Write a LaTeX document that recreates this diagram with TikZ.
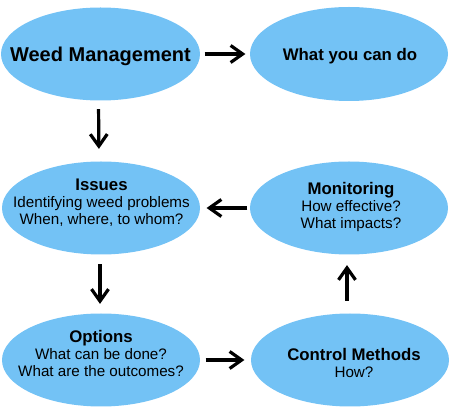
\documentclass[tikz,border=0pt]{standalone}
\usepackage{fontspec}
\setmainfont{Liberation Sans}
\usetikzlibrary{shapes.geometric,arrows.meta}
\definecolor{blobblue}{HTML}{73C2F5}
\newcommand{\blobtitle}[1]{{\bfseries\fontsize{16.8}{17}\selectfont #1}}
\begin{document}
\begin{tikzpicture}[x=1pt,y=1pt,line width=3.2pt,
  blob/.style={ellipse,fill=blobblue,inner sep=0pt,minimum width=198pt,minimum height=93pt},
  txt/.style={align=center,inner sep=0pt,font=\fontsize{15.2}{17}\selectfont},
  arr/.style={-{Straight Barb[length=12pt,width=17pt]}}]
 \useasboundingbox (0,0) rectangle (450,415);
 % ellipses
 \node[blob,minimum width=199pt] (wm) at (100.5,361) {};
 \node[blob,minimum height=94pt] (wyc) at (349,361) {};
 \node[blob] (iss) at (101,207) {};
 \node[blob] (mon) at (349,207) {};
 \node[blob] (opt) at (101,55) {};
 \node[blob] (ctl) at (350,55) {};
 % texts
 \node[txt,anchor=base,font=\bfseries\fontsize{20}{22}\selectfont] (wm-t) at (100.5,353.5) {Weed Management};
 \node[txt,anchor=base] (wyc-t) at (350,354) {\blobtitle{What you can do}};
 \node[txt] (iss-t) at (101.5,212.5) {\blobtitle{Issues}\\Identifying weed problems\\When, where, to whom?};
 \node[txt] (mon-t) at (351,208.5) {\blobtitle{Monitoring}\\How effective?\\What impacts?};
 \node[txt] (opt-t) at (101,62) {\blobtitle{Options}\\What can be done?\\What are the outcomes?};
 \node[txt] (ctl-t) at (354,52.5) {\blobtitle{Control Methods}\\How?};
 % arrows
 \draw[arr,shorten <=3pt,shorten >=3pt] (wm.east) -- (wyc.west);
 \draw[arr,shorten <=7pt,shorten >=11pt] ([xshift=-2pt]wm.south) -- ([xshift=-2pt]iss.north);
 \draw[arr,shorten <=1pt,shorten >=5pt] (mon.west) -- (iss.east);
 \draw[arr,shorten <=8pt,shorten >=8pt] ([xshift=-1pt]iss.south) -- ([xshift=-1pt]opt.north);
 \draw[arr,shorten <=11pt,shorten >=9pt] ([xshift=-3pt]ctl.north) -- ([xshift=-2pt]mon.south);
 \draw[arr,shorten <=4pt,shorten >=5pt] (opt.east) -- (ctl.west);
\end{tikzpicture}
\end{document}
